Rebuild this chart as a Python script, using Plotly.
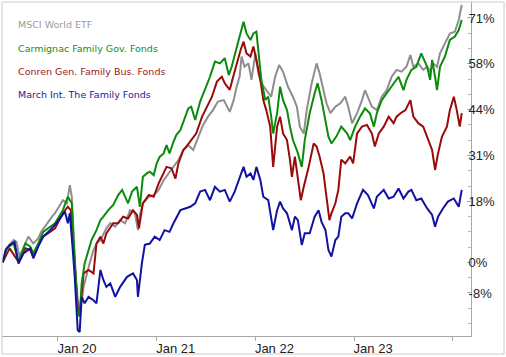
import plotly.graph_objects as go

# ---- data (time in decimal years, performance in %) ----
t_msci = [2019.44, 2019.48, 2019.55, 2019.58, 2019.61, 2019.67, 2019.70, 2019.75, 2019.80, 2019.83,
          2019.89, 2019.94, 2019.97, 2020.02, 2020.05, 2020.09, 2020.12, 2020.14, 2020.16, 2020.18,
          2020.21, 2020.22, 2020.26, 2020.29, 2020.32, 2020.36, 2020.39, 2020.43, 2020.46, 2020.49,
          2020.53, 2020.58, 2020.63, 2020.68, 2020.73, 2020.78, 2020.81, 2020.83, 2020.86, 2020.92,
          2020.97, 2021.02, 2021.07, 2021.12, 2021.17, 2021.22, 2021.27, 2021.32, 2021.37, 2021.42,
          2021.47, 2021.52, 2021.57, 2021.62, 2021.68, 2021.74, 2021.78, 2021.81, 2021.84, 2021.86,
          2021.89, 2021.93, 2021.96, 2022.00, 2022.03, 2022.06, 2022.11, 2022.16, 2022.20, 2022.24,
          2022.28, 2022.33, 2022.38, 2022.42, 2022.45, 2022.49, 2022.52, 2022.57, 2022.62, 2022.65,
          2022.69, 2022.72, 2022.76, 2022.81, 2022.86, 2022.91, 2022.94, 2022.98, 2023.03, 2023.08,
          2023.11, 2023.14, 2023.18, 2023.23, 2023.28, 2023.33, 2023.38, 2023.43, 2023.48, 2023.53,
          2023.57, 2023.60, 2023.65, 2023.70, 2023.74, 2023.77, 2023.80, 2023.84, 2023.87, 2023.92,
          2023.97, 2024.02, 2024.06, 2024.09]
v_msci = [0.0, 4.1, 6.5, 6.0, 1.7, 5.5, 7.5, 5.5, 7.0, 8.9,
          11.4, 13.3, 14.3, 16.7, 18.1, 17.2, 22.5, 19.1, 5.5, -4.2,
          -13.9, -15.8, -7.1, -3.2, -0.3, 3.6, 5.5, 6.5, 8.4, 9.9,
          11.4, 10.4, 12.3, 11.4, 15.2, 14.3, 9.4, 13.8, 17.2, 19.1,
          19.6, 21.1, 23.9, 25.9, 27.8, 29.8, 32.7, 34.1, 32.7, 36.6,
          40.0, 42.4, 44.3, 46.8, 47.2, 43.8, 47.2, 51.1, 54.0, 59.9,
          56.9, 57.9, 53.1, 60.8, 55.0, 52.1, 50.1, 48.2, 54.0, 57.4,
          55.5, 51.1, 48.2, 45.3, 39.5, 37.5, 44.3, 52.1, 57.9, 55.0,
          50.1, 46.3, 43.4, 45.3, 46.3, 48.2, 45.3, 40.5, 43.4, 47.2,
          50.1, 48.2, 45.3, 44.3, 48.2, 50.1, 54.0, 56.0, 55.5, 56.9,
          60.3, 56.9, 57.9, 56.0, 56.9, 55.5, 57.9, 56.9, 60.8, 63.7,
          66.6, 67.1, 70.5, 74.9]

t_carm = [2019.44, 2019.48, 2019.55, 2019.60, 2019.67, 2019.72, 2019.75, 2019.80, 2019.85, 2019.92,
          2019.97, 2020.02, 2020.05, 2020.10, 2020.14, 2020.16, 2020.20, 2020.22, 2020.24, 2020.27,
          2020.31, 2020.34, 2020.39, 2020.43, 2020.46, 2020.51, 2020.56, 2020.61, 2020.65, 2020.68,
          2020.71, 2020.75, 2020.80, 2020.83, 2020.86, 2020.90, 2020.93, 2020.97, 2021.00, 2021.03,
          2021.07, 2021.10, 2021.13, 2021.17, 2021.20, 2021.24, 2021.29, 2021.32, 2021.35, 2021.39,
          2021.44, 2021.49, 2021.54, 2021.59, 2021.64, 2021.69, 2021.73, 2021.76, 2021.81, 2021.84,
          2021.88, 2021.91, 2021.95, 2021.98, 2022.01, 2022.03, 2022.06, 2022.10, 2022.13, 2022.16,
          2022.18, 2022.22, 2022.25, 2022.28, 2022.32, 2022.35, 2022.38, 2022.42, 2022.45, 2022.47,
          2022.50, 2022.55, 2022.60, 2022.63, 2022.67, 2022.71, 2022.74, 2022.77, 2022.82, 2022.87,
          2022.93, 2022.96, 2023.01, 2023.06, 2023.11, 2023.16, 2023.20, 2023.23, 2023.28, 2023.33,
          2023.40, 2023.45, 2023.50, 2023.53, 2023.58, 2023.63, 2023.68, 2023.74, 2023.77, 2023.79,
          2023.82, 2023.84, 2023.87, 2023.92, 2023.97, 2024.02, 2024.06, 2024.09]
v_carm = [0.0, 4.1, 5.5, 0.2, 5.5, 4.6, 2.6, 5.5, 8.9, 10.4,
          11.4, 13.8, 15.2, 19.1, 17.2, 5.5, -13.9, -15.8, -6.1, -0.3,
          3.6, 6.5, 9.4, 12.3, 13.3, 15.2, 16.7, 19.6, 21.1, 19.1,
          17.2, 20.6, 22.0, 16.2, 24.9, 25.9, 26.4, 25.4, 28.8, 30.7,
          31.7, 34.1, 31.7, 35.1, 37.1, 38.5, 42.4, 44.8, 45.3, 41.4,
          46.8, 50.2, 54.0, 58.4, 57.9, 59.4, 54.5, 56.9, 62.8, 65.7,
          70.0, 66.6, 64.7, 66.6, 67.1, 61.8, 53.1, 47.2, 48.2, 42.4,
          37.5, 43.4, 51.1, 47.2, 44.3, 39.5, 35.6, 32.7, 29.8, 27.8,
          35.6, 43.4, 49.2, 52.1, 47.2, 40.5, 36.6, 34.6, 36.6, 39.5,
          37.5, 35.6, 39.5, 42.4, 44.8, 43.4, 39.5, 43.4, 47.2, 49.2,
          52.1, 54.0, 50.1, 53.1, 56.0, 56.9, 60.8, 56.9, 53.1, 58.9,
          54.0, 50.1, 56.9, 59.9, 64.7, 65.7, 67.6, 70.5]

t_conr = [2019.44, 2019.51, 2019.60, 2019.67, 2019.72, 2019.75, 2019.80, 2019.85, 2019.92, 2019.97,
          2020.05, 2020.10, 2020.13, 2020.16, 2020.20, 2020.22, 2020.26, 2020.31, 2020.36, 2020.39,
          2020.43, 2020.46, 2020.49, 2020.56, 2020.61, 2020.66, 2020.71, 2020.76, 2020.80, 2020.82,
          2020.86, 2020.92, 2020.97, 2021.02, 2021.07, 2021.10, 2021.15, 2021.19, 2021.22, 2021.27,
          2021.30, 2021.35, 2021.40, 2021.46, 2021.51, 2021.56, 2021.61, 2021.66, 2021.69, 2021.74,
          2021.78, 2021.82, 2021.85, 2021.88, 2021.91, 2021.95, 2021.98, 2022.01, 2022.05, 2022.08,
          2022.11, 2022.15, 2022.18, 2022.22, 2022.25, 2022.28, 2022.32, 2022.35, 2022.37, 2022.40,
          2022.43, 2022.46, 2022.49, 2022.54, 2022.59, 2022.62, 2022.65, 2022.69, 2022.72, 2022.75,
          2022.77, 2022.81, 2022.84, 2022.87, 2022.91, 2022.96, 2022.99, 2023.03, 2023.08, 2023.13,
          2023.18, 2023.21, 2023.25, 2023.30, 2023.35, 2023.40, 2023.43, 2023.47, 2023.52, 2023.57,
          2023.60, 2023.65, 2023.70, 2023.75, 2023.79, 2023.82, 2023.85, 2023.89, 2023.94, 2023.97,
          2024.01, 2024.04, 2024.07, 2024.09]
v_conr = [0.0, 4.1, 0.2, 4.1, 3.6, 1.7, 5.1, 7.5, 8.9, 9.9,
          14.3, 16.2, 15.2, 3.6, -12.9, -14.8, -3.2, -2.2, -3.2, 5.5,
          7.5, 5.5, 8.4, 11.4, 11.4, 13.3, 12.8, 15.2, 13.8, 9.9,
          17.2, 19.6, 19.1, 23.0, 25.9, 27.8, 27.4, 24.4, 28.8, 32.7,
          33.7, 35.6, 37.5, 42.4, 45.3, 48.2, 52.6, 54.0, 52.1, 50.2,
          54.5, 58.9, 61.8, 64.2, 60.8, 59.9, 62.8, 58.9, 53.1, 47.2,
          44.3, 39.5, 27.8, 39.5, 42.4, 37.5, 35.6, 29.9, 24.9, 30.8,
          24.0, 18.1, 22.0, 27.8, 34.6, 33.7, 30.8, 25.9, 19.1, 12.3,
          14.3, 17.2, 21.1, 29.9, 28.8, 30.8, 28.8, 37.5, 39.5, 40.0,
          37.5, 33.7, 37.5, 39.5, 42.4, 40.5, 42.4, 43.4, 44.3, 47.2,
          42.4, 40.5, 39.5, 35.6, 32.7, 26.9, 31.7, 36.6, 39.5, 44.3,
          48.2, 44.3, 39.5, 43.4]

t_march = [2019.44, 2019.47, 2019.51, 2019.56, 2019.60, 2019.65, 2019.72, 2019.75, 2019.80, 2019.85,
           2019.92, 2019.97, 2020.02, 2020.07, 2020.10, 2020.12, 2020.15, 2020.17, 2020.20, 2020.22,
           2020.24, 2020.27, 2020.31, 2020.36, 2020.39, 2020.43, 2020.46, 2020.49, 2020.53, 2020.58,
           2020.63, 2020.70, 2020.76, 2020.80, 2020.81, 2020.85, 2020.88, 2020.93, 2020.98, 2021.03,
           2021.08, 2021.13, 2021.17, 2021.24, 2021.29, 2021.34, 2021.39, 2021.44, 2021.49, 2021.54,
           2021.59, 2021.64, 2021.69, 2021.74, 2021.79, 2021.84, 2021.88, 2021.91, 2021.95, 2021.98,
           2022.01, 2022.05, 2022.08, 2022.13, 2022.16, 2022.18, 2022.22, 2022.25, 2022.28, 2022.32,
           2022.37, 2022.40, 2022.43, 2022.47, 2022.50, 2022.55, 2022.60, 2022.64, 2022.67, 2022.71,
           2022.74, 2022.77, 2022.81, 2022.84, 2022.87, 2022.91, 2022.94, 2022.98, 2023.03, 2023.09,
           2023.14, 2023.20, 2023.23, 2023.30, 2023.35, 2023.40, 2023.45, 2023.50, 2023.55, 2023.58,
           2023.63, 2023.68, 2023.74, 2023.79, 2023.82, 2023.85, 2023.90, 2023.95, 2024.01, 2024.06,
           2024.09]
v_march = [0.0, 3.6, 5.1, 6.0, -0.3, 2.6, 4.1, 1.2, 4.6, 7.5,
           9.4, 10.9, 12.8, 14.8, 11.4, 14.3, 3.6, -4.2, -19.7, -20.2,
           -10.0, -11.9, -10.0, -11.0, -11.9, -2.2, -5.1, -7.1, -6.1, -10.0,
           -7.1, -4.2, -3.2, -5.1, -10.0, -0.3, 5.1, 5.5, 7.5, 6.5,
           9.4, 8.9, 11.4, 15.2, 15.7, 16.2, 17.2, 20.6, 21.1, 18.1,
           22.0, 20.6, 21.1, 17.7, 20.6, 24.4, 27.8, 24.9, 25.9, 24.0,
           27.8, 24.0, 19.1, 18.1, 13.3, 9.4, 15.2, 17.7, 15.7, 14.3,
           9.4, 13.3, 12.3, 5.1, 8.5, 8.5, 13.3, 15.2, 11.8, 9.4,
           3.6, 1.7, 6.5, 7.5, 13.3, 14.3, 14.3, 12.8, 17.2, 21.1,
           19.6, 15.7, 19.1, 21.1, 18.6, 19.1, 21.5, 18.6, 20.6, 21.1,
           18.1, 18.6, 15.7, 13.8, 10.4, 13.3, 15.7, 17.7, 18.6, 16.2,
           21.1]

names = ["MSCI World ETF", "Carmignac Family Gov. Fonds",
         "Conren Gen. Family Bus. Fonds", "March Int. The Family Fonds"]

x_tickvals = [2020, 2021, 2022, 2023, 2024]
x_ticktext = ["Jan 20", "Jan 21", "Jan 22", "Jan 23", ""]
y_tickvals = [71.11, 57.78, 44.44, 31.11, 17.78, 0.0, -8.89]
y_ticktext = ["71%", "58%", "44%", "31%", "18%", "0%", "-8%"]

line_colors = ["#8e8e8e", "#0b8a0b", "#9a0a0a", "#1212a0"]
text_colors = ["#9a9a9a", "#178a17", "#a01515", "#1c1c98"]

series = [(t_msci, v_msci), (t_conr, v_conr), (t_carm, v_carm), (t_march, v_march)]
order = [0, 2, 1, 3]

fig = go.Figure()
for (tx, vy), idx in zip(series, order):
    fig.add_trace(go.Scatter(x=tx, y=vy, mode="lines", name=names[idx],
                             line=dict(color=line_colors[idx], width=2),
                             showlegend=False, hoverinfo="skip"))

axis_font = dict(family="Liberation Sans, Arial, sans-serif", size=13, color="#222222")

fig.update_xaxes(range=[2019.433, 2024.184], tickmode="array", tickvals=x_tickvals,
                 ticktext=x_ticktext, ticks="outside", ticklen=4, tickcolor="#a8a8a8",
                 showline=True, linecolor="#a8a8a8", linewidth=1, showgrid=False,
                 zeroline=False, tickfont=axis_font, ticklabelshift=19,
                 ticklabelstandoff=-4)
fig.update_yaxes(range=[-21.4, 75.75], side="right", tickmode="array", tickvals=y_tickvals,
                 ticktext=y_ticktext, ticks="inside", ticklen=4, tickcolor="#a8a8a8",
                 showline=True, linecolor="#a8a8a8", linewidth=1, showgrid=False,
                 zeroline=False, tickfont=axis_font, ticklabelstandoff=-6,
                 minor=dict(tickmode="linear", tick0=0, dtick=40 / 9, ticks="inside",
                            ticklen=3, tickcolor="#b8b8b8"))

legend_y = [0.9332, 0.8613, 0.7913, 0.7237]
for i in range(4):
    fig.add_annotation(x=0.0299, y=legend_y[i], xref="paper", yref="paper",
                       text=names[i], showarrow=False, xanchor="left", yanchor="middle",
                       font=dict(family="DejaVu Sans, Verdana, sans-serif", size=9.5,
                                 color=text_colors[i]))

# outer frame
fig.add_shape(type="rect", xref="paper", yref="paper", x0=0, x1=1.0704, y0=-0.0539, y1=1,
              line=dict(color="#cccccc", width=1), fillcolor="rgba(0,0,0,0)", layer="above")

fig.update_layout(width=506, height=357, margin=dict(l=2, r=35, t=2, b=21),
                  paper_bgcolor="white", plot_bgcolor="white")

fig.write_html("out.html", config={"displayModeBar": False},
               post_script="document.body.style.margin='0px';document.body.style.padding='0px';")
